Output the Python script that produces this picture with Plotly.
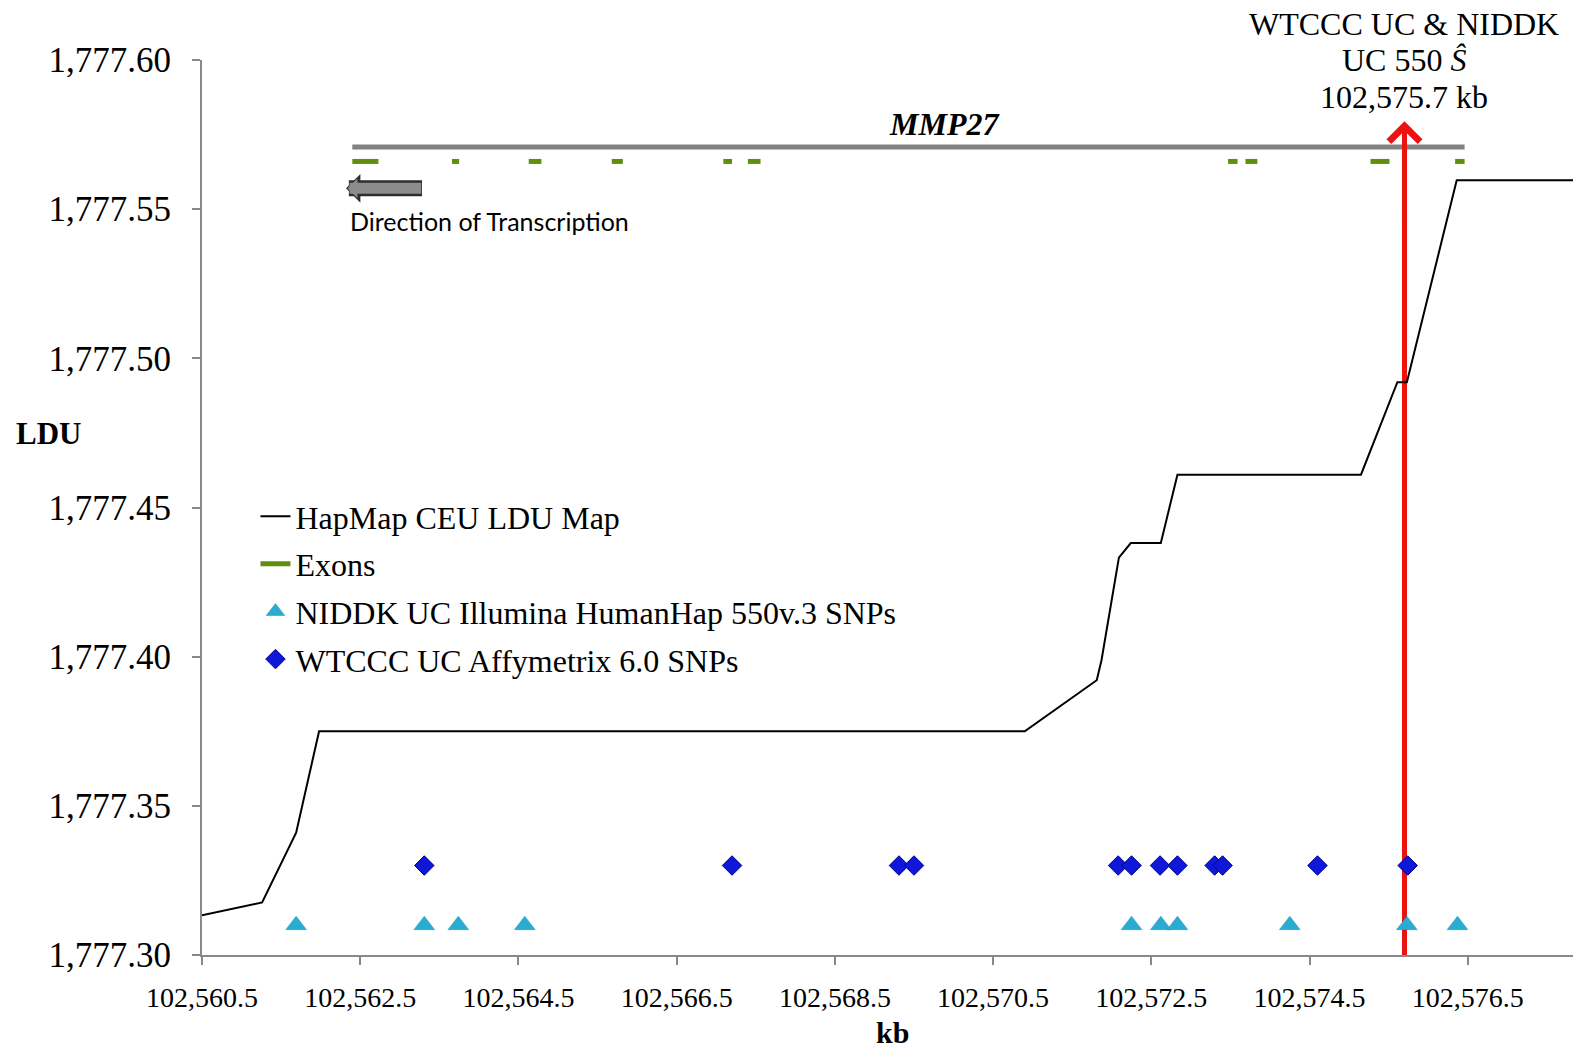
import plotly.graph_objects as go

# ---- data ----
ldu_kb = [102560.50, 102561.26, 102561.69, 102561.98, 102570.90, 102571.81, 102571.87,
          102572.09, 102572.24, 102572.62, 102572.83, 102575.15, 102575.61, 102575.73,
          102576.36, 102577.83]
ldu_val = [1777.3133, 1777.3176, 1777.3410, 1777.3750, 1777.3750, 1777.3921, 1777.3988,
           1777.4332, 1777.4381, 1777.4381, 1777.4610, 1777.4610, 1777.4920, 1777.4920,
           1777.5597, 1777.5597]

niddk_kb = [102561.69, 102563.31, 102563.74, 102564.58, 102572.25, 102572.62, 102572.83,
            102574.25, 102575.73, 102576.37]
niddk_y = 1777.31

wtccc_kb = [102563.31, 102567.20, 102569.31, 102569.50, 102572.08, 102572.25, 102572.61,
            102572.83, 102573.30, 102573.40, 102574.60, 102575.74]
wtccc_y = 1777.33

gene_name = "MMP27"
gene_start, gene_end = 102562.40, 102576.46
gene_y = 1777.5708

exon_starts = [102562.40, 102563.66, 102564.63, 102565.68, 102567.09, 102567.40,
               102573.47, 102573.69, 102575.27, 102576.34]
exon_ends = [102562.73, 102563.75, 102564.79, 102565.82, 102567.20, 102567.56,
             102573.59, 102573.84, 102575.51, 102576.46]
exon_y = 1777.5660

shat_kb = 102575.7
shat_label = ["WTCCC UC &amp; NIDDK", "UC 550 <i>Ŝ</i>", "102,575.7 kb"]

x_range = [102560.5, 102577.83]
y_range = [1777.30, 1777.60]

SERIF = "Liberation Serif, Times New Roman, serif"

fig = go.Figure()

ex_x, ex_y = [], []
for s, e in zip(exon_starts, exon_ends):
    ex_x += [s, e, None]
    ex_y += [exon_y, exon_y, None]

fig.add_trace(go.Scatter(x=ldu_kb, y=ldu_val, mode="lines", name="HapMap CEU LDU Map",
                         legendgroup="a", line=dict(color="black", width=2)))
fig.add_trace(go.Scatter(x=ex_x, y=ex_y, mode="lines", name="Exons", legendgroup="b",
                         line=dict(color="#5f8f0c", width=5)))
fig.add_trace(go.Scatter(x=niddk_kb, y=[niddk_y] * len(niddk_kb), mode="markers",
                         name="NIDDK UC Illumina HumanHap 550v.3 SNPs", legendgroup="c",
                         marker=dict(symbol="triangle-up", size=18, color="#2aabd2",
                                     line=dict(color="#1d95bb", width=0.5))))
fig.add_trace(go.Scatter(x=wtccc_kb, y=[wtccc_y] * len(wtccc_kb), mode="markers",
                         name="WTCCC UC Affymetrix 6.0 SNPs", legendgroup="d",
                         marker=dict(symbol="diamond", size=15, color="#0f17d8",
                                     line=dict(color="#000090", width=1))))
fig.add_trace(go.Scatter(x=[gene_start, gene_end], y=[gene_y, gene_y], mode="lines",
                         line=dict(color="#828282", width=5), showlegend=False,
                         hoverinfo="skip"))

# red vertical line (below traces) + arrow head
fig.add_shape(type="line", x0=shat_kb, x1=shat_kb, y0=y_range[0], y1=1777.575,
              xref="x", yref="y", line=dict(color="#ee1111", width=5), layer="below")

annotations = []
annotations.append(dict(x=shat_kb, y=1777.5795, ax=shat_kb, ay=1777.545, xref="x", yref="y",
                        axref="x", ayref="y", text=" ", font=dict(size=1), showarrow=True,
                        arrowhead=4, arrowsize=1.2, arrowwidth=5, arrowcolor="#ee1111"))
for line, py in zip(shat_label, [1.0402, 1.0, 0.9587]):
    annotations.append(dict(x=shat_kb, y=py, xref="x", yref="paper", text=line,
                            showarrow=False, xanchor="center", yanchor="middle",
                            font=dict(family=SERIF, size=32, color="black")))

annotations.append(dict(x=(gene_start + gene_end) / 2 + 0.45, y=0.9285, xref="x", yref="paper",
                        text="<b><i>" + gene_name + "</i></b>", showarrow=False,
                        xanchor="center", yanchor="middle",
                        font=dict(family=SERIF, size=32, color="black")))

annotations.append(dict(x=102562.32, y=1777.557, ax=102563.30, ay=1777.557, xref="x", yref="y",
                        axref="x", ayref="y", text=" ", font=dict(size=1), showarrow=True,
                        arrowhead=1, arrowsize=0.3, arrowwidth=16, arrowcolor="#2e2e2e"))
annotations.append(dict(x=102562.34, y=1777.557, ax=102563.29, ay=1777.557, xref="x", yref="y",
                        axref="x", ayref="y", text=" ", font=dict(size=1), showarrow=True,
                        arrowhead=1, arrowsize=0.3, arrowwidth=11, arrowcolor="#8c8c8c"))
annotations.append(dict(x=102562.35, y=0.820, xref="x", yref="paper",
                        text="Direction of Transcription", showarrow=False, xanchor="left",
                        yanchor="middle", font=dict(family="Lato, Open Sans, sans-serif",
                                                    size=25, color="black")))

annotations.append(dict(x=-0.112, y=0.583, xref="paper", yref="paper", text="<b>LDU</b>",
                        showarrow=False, xanchor="center", yanchor="middle",
                        font=dict(family=SERIF, size=31, color="black")))
annotations.append(dict(x=0.504, y=-0.087, xref="paper", yref="paper", text="<b>kb</b>",
                        showarrow=False, xanchor="center", yanchor="middle",
                        font=dict(family=SERIF, size=30, color="black")))

fig.update_layout(
    width=1573, height=1056,
    margin=dict(l=202, r=0, t=60, b=101),
    plot_bgcolor="white", paper_bgcolor="white",
    showlegend=True,
    legend=dict(x=0.039, y=0.5207, xanchor="left", yanchor="top",
                traceorder="grouped", tracegroupgap=3,
                bgcolor="rgba(0,0,0,0)", font=dict(family=SERIF, size=32, color="black"),
                itemsizing="trace"),
    annotations=annotations,
    xaxis=dict(range=x_range, tick0=102560.5, dtick=2, tickformat=",.1f",
               showline=True, linecolor="#888888", linewidth=2, ticks="outside",
               ticklen=8, tickwidth=2, tickcolor="#888888", showgrid=False, zeroline=False,
               ticklabelstandoff=8,
               tickfont=dict(family=SERIF, size=28, color="black")),
    yaxis=dict(range=y_range, tick0=1777.30, dtick=0.05, tickformat=",.2f",
               showline=True, linecolor="#888888", linewidth=2, ticks="outside",
               ticklen=8, tickwidth=2, tickcolor="#888888", showgrid=False, zeroline=False,
               ticklabelstandoff=14,
               tickfont=dict(family=SERIF, size=35, color="black")),
)

fig.write_html("out.html")
